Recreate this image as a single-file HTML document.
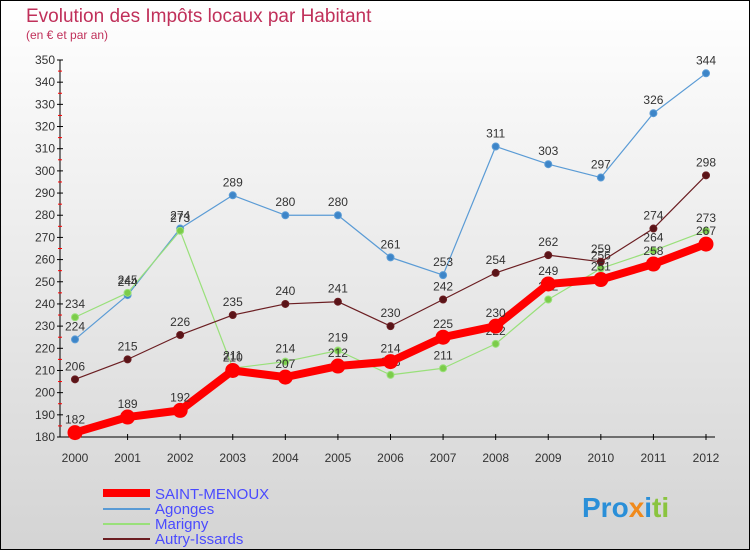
<!DOCTYPE html>
<html><head><meta charset="utf-8"><style>
body{margin:0}
#c{width:750px;height:550px;position:relative;overflow:hidden}
svg text{font-family:"Liberation Sans",sans-serif}
</style></head><body>
<div id="c">
<svg id="s" width="750" height="550" xmlns="http://www.w3.org/2000/svg">
<defs><linearGradient id="bg" x1="0" y1="0" x2="0" y2="1"><stop offset="0" stop-color="#ffffff"/><stop offset="1" stop-color="#d4d4d4"/></linearGradient></defs>
<rect x="0.5" y="0.5" width="749" height="549" fill="url(#bg)" stroke="#000"/>
<text x="26" y="22" font-size="19" fill="#c0305a">Evolution des Impôts locaux par Habitant</text>
<text x="26" y="39" font-size="12" fill="#c0305a">(en € et par an)</text>
<g id="plot"></g>
<g>
<line x1="103" y1="493" x2="150" y2="493" stroke="#f00" stroke-width="8"/>
<text x="155" y="499" font-size="15" fill="#4a4aff">SAINT-MENOUX</text>
<line x1="103" y1="509" x2="150" y2="509" stroke="#5a9bd5" stroke-width="2"/>
<text x="155" y="514" font-size="15" fill="#4a4aff">Agonges</text>
<line x1="103" y1="524" x2="150" y2="524" stroke="#99e07a" stroke-width="2"/>
<text x="155" y="529" font-size="15" fill="#4a4aff">Marigny</text>
<line x1="103" y1="539" x2="150" y2="539" stroke="#6b1e22" stroke-width="2"/>
<text x="155" y="544" font-size="15" fill="#4a4aff">Autry-Issards</text>
</g>
<text x="582" y="517" font-size="28" font-weight="bold"><tspan fill="#2a8fd8">Pro</tspan><tspan fill="#f08a1c">x</tspan><tspan fill="#2a8fd8">i</tspan><tspan fill="#8ac43f">ti</tspan></text>
</svg></div>
<script>
const years=[2000,2001,2002,2003,2004,2005,2006,2007,2008,2009,2010,2011,2012];
const saintMenoux=[182,189,192,210,207,212,214,225,230,249,251,258,267];
const agonges=[224,244,274,289,280,280,261,253,311,303,297,326,344];
const marigny=[234,245,273,211,214,219,208,211,222,242,256,264,273];
const autry=[206,215,226,235,240,241,230,242,254,262,259,274,298];
const yTicks=[180,190,200,210,220,230,240,250,260,270,280,290,300,310,320,330,340,350];
const NS="http://www.w3.org/2000/svg";
const g=document.getElementById('plot');
const x=i=>75+i*(706-75)/(years.length-1);
const y=v=>437-(v-180)*(437-60)/170;
function mk(t,a,p){const e=document.createElementNS(NS,t);for(const k in a)e.setAttribute(k,a[k]);(p||g).appendChild(e);return e;}
const ax=mk('line',{x1:60,y1:60,x2:60,y2:437,stroke:'#000'});


const bx=mk('line',{x1:60,y1:437,x2:715,y2:437,stroke:'#000'});


yTicks.forEach(v=>{
 mk('line',{x1:57,y1:y(v),x2:63,y2:y(v),stroke:'#000'});
 if(v<350)mk('line',{x1:58,y1:y(v+5),x2:62,y2:y(v+5),stroke:'#f00'});
 const t=mk('text',{x:55,y:y(v)+4,'text-anchor':'end','font-size':12,fill:'#333'});t.textContent=v;
 
 
});
years.forEach((yr,i)=>{
 mk('line',{x1:x(i),y1:434,x2:x(i),y2:440,stroke:'#000'});
 const t=mk('text',{x:x(i),y:462,'text-anchor':'middle','font-size':12,fill:'#333'});t.textContent=yr;
 
 
});
function series(d,col,w,r,name,fill){
 const s=mk('g',{});
 
 
 mk('polyline',{points:d.map((v,i)=>x(i)+','+y(v)).join(' '),fill:'none',stroke:col,'stroke-width':w,'stroke-linejoin':'round'},s);
 d.forEach((v,i)=>{
  const c=mk('circle',{cx:x(i),cy:y(v),r:r,fill:fill,stroke:col,'stroke-width':1},s);
  
  
  const t=mk('text',{x:x(i),y:y(v)-9,'text-anchor':'middle','font-size':12,fill:'#333'},s);t.textContent=v;
 });
}
series(agonges,'#5a9bd5',1.2,3.5,'series-agonges','#3d85c8');
series(marigny,'#99e07a',1.2,3.5,'series-marigny','#7ccc4a');
series(autry,'#6b1e22',1.2,3.5,'series-autry-issards','#5a1418');
series(saintMenoux,'#f00',8,7,'series-saint-menoux','#f00');
</script>
</body></html>
